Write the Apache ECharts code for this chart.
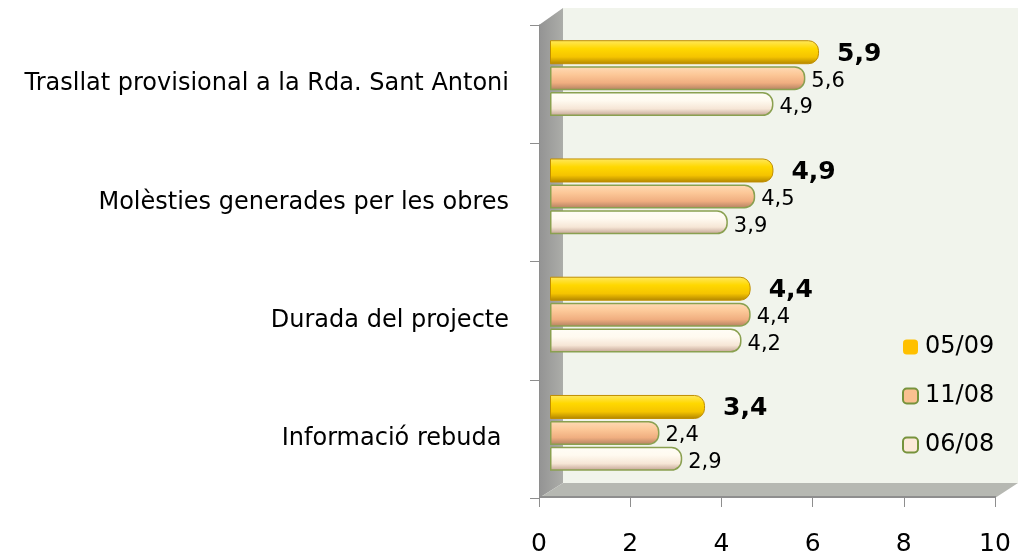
<!DOCTYPE html>
<html>
<head>
    <meta charset="UTF-8">
    <title>Valoració de les obres</title>
    <script src="https://cdn.jsdelivr.net/npm/echarts@6/dist/echarts.min.js"></script>
    <style>
        html, body {margin: 0; padding: 0; background: #fff;}
        #main {width: 1026px; height: 557px;}
    </style>
</head>
<body>
<div id="main"></div>
<script>
    // categories from bottom to top
    var categories = ['Informació rebuda ', 'Durada del projecte', 'Molèsties generades per les obres', 'Trasllat provisional a la Rda. Sant Antoni'];
    var seriesNames = ['05/09', '11/08', '06/08'];
    var val0509 = [3.4, 4.4, 4.9, 5.9];
    var val1108 = [2.4, 4.4, 4.5, 5.6];
    var val0608 = [2.9, 4.2, 3.9, 4.9];
    var xTicks = [0, 2, 4, 6, 8, 10];

    var myChart = echarts.init(document.getElementById('main'));

    function grad(c1, c2, c3, c4) {
        return new echarts.graphic.LinearGradient(0, 0, 0, 1, [
            {offset: 0, color: c1},
            {offset: 0.35, color: c2},
            {offset: 0.7, color: c3},
            {offset: 1, color: c4}
        ]);
    }
    function comma(p) {
        return String(p.value).replace('.', ',');
    }
    var FONT = 'DejaVu Sans';

    var option = {
        animation: false,
        textStyle: {fontFamily: FONT},
        graphic: [
            // back wall
            {type: 'polygon', z: 0, shape: {points: [[563, 8], [1018, 8], [1018, 483], [563, 483]]},
                style: {fill: '#f1f4ec'}},
            // left wall
            {type: 'polygon', z: 0, shape: {points: [[539, 25], [563, 8], [563, 483], [539, 498]]},
                style: {fill: new echarts.graphic.LinearGradient(0, 0, 1, 0, [
                    {offset: 0, color: '#939393'}, {offset: 1, color: '#acada9'}])}},
            // floor
            {type: 'polygon', z: 0, shape: {points: [[539, 498], [563, 483], [1018, 483], [995, 498]]},
                style: {fill: '#b6b8b2'}},
            {type: 'line', z: 0, shape: {x1: 539, y1: 497, x2: 996, y2: 497},
                style: {stroke: '#8e8e8e', lineWidth: 2}}
        ],
        legend: {
            orient: 'vertical',
            left: 897,
            top: 330,
            itemWidth: 15,
            itemHeight: 15,
            itemGap: 25,
            textStyle: {fontSize: 24, color: '#000', fontFamily: FONT, padding: [0, 0, 0, 2]},
            data: [
                {name: '05/09', itemStyle: {color: '#ffc000', borderWidth: 0}},
                {name: '11/08', itemStyle: {color: '#fac090', borderColor: '#77933c', borderWidth: 2}},
                {name: '06/08', itemStyle: {color: '#fde9d9', borderColor: '#77933c', borderWidth: 2}}
            ]
        },
        grid: [
            {left: 539, top: 25, width: 456, height: 473},
            {left: 550, top: 19, width: 456, height: 473}
        ],
        xAxis: [
            {
                gridIndex: 0, type: 'value', min: 0, max: 10, interval: 2, z: 3,
                axisLine: {show: false},
                axisTick: {show: true, inside: false, length: 9, lineStyle: {color: '#8e8e8e'}},
                splitLine: {show: false},
                axisLabel: {
                    fontSize: 25, color: '#000', margin: 34, fontFamily: FONT,
                    formatter: function (v) { return xTicks.indexOf(v) >= 0 ? String(v) : ''; }
                }
            },
            {gridIndex: 1, type: 'value', min: 0, max: 10, show: false}
        ],
        yAxis: [
            {
                gridIndex: 0, type: 'category', data: categories, z: 3,
                axisLine: {show: true, lineStyle: {color: '#8e8e8e', width: 1}},
                axisTick: {show: true, length: 9, lineStyle: {color: '#8e8e8e'}},
                axisLabel: {fontSize: 24, color: '#000', margin: 30, fontFamily: FONT}
            },
            {gridIndex: 1, type: 'category', data: categories, show: false}
        ],
        series: [
            {
                name: '05/09', type: 'bar', xAxisIndex: 1, yAxisIndex: 1, data: val0509,
                barWidth: 24, barGap: '8%', barCategoryGap: '33%',
                itemStyle: {
                    color: grad('#ffe860', '#ffd800', '#f5c400', '#b08400'),
                    borderColor: '#c08e00', borderWidth: 1, borderRadius: [0, 10, 10, 0]
                },
                label: {show: true, position: 'right', distance: 18, offset: [0, 2],
                    fontSize: 25, fontWeight: 'bold', color: '#000', fontFamily: FONT, formatter: comma}
            },
            {
                name: '11/08', type: 'bar', xAxisIndex: 1, yAxisIndex: 1, data: val1108,
                barWidth: 24, barGap: '8%',
                itemStyle: {
                    color: grad('#ffdcb8', '#fcc898', '#f0ae80', '#b08060'),
                    borderColor: '#8aa050', borderWidth: 1.5, borderRadius: [0, 10, 10, 0]
                },
                label: {show: true, position: 'right', distance: 6, offset: [0, 3],
                    fontSize: 21, color: '#000', fontFamily: FONT, formatter: comma}
            },
            {
                name: '06/08', type: 'bar', xAxisIndex: 1, yAxisIndex: 1, data: val0608,
                barWidth: 24, barGap: '8%',
                itemStyle: {
                    color: grad('#fffdf6', '#fffaf0', '#f6e6d6', '#c0a090'),
                    borderColor: '#8aa050', borderWidth: 1.5, borderRadius: [0, 10, 10, 0]
                },
                label: {show: true, position: 'right', distance: 6, offset: [0, 4],
                    fontSize: 21, color: '#000', fontFamily: FONT, formatter: comma}
            }
        ]
    };
    myChart.setOption(option);
</script>
</body>
</html>
